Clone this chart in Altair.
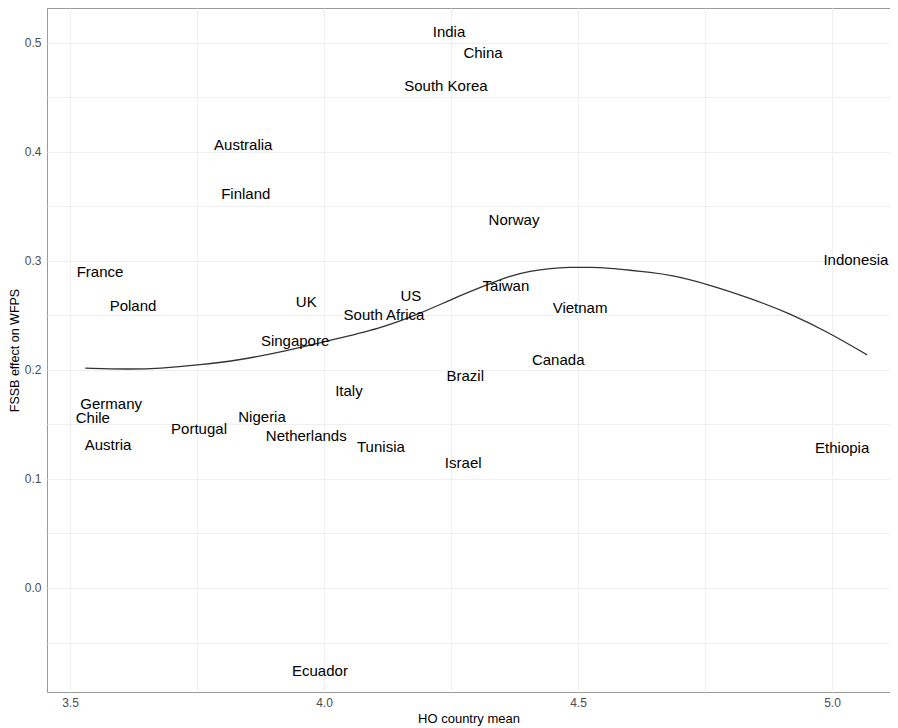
import altair as alt
import pandas as pd

countries = ["India", "China", "South Korea", "Australia", "Finland", "Norway", "France",
             "Indonesia", "Poland", "UK", "US", "South Africa", "Taiwan", "Vietnam",
             "Singapore", "Canada", "Brazil", "Italy", "Germany", "Chile", "Nigeria",
             "Portugal", "Netherlands", "Austria", "Tunisia", "Ethiopia", "Israel", "Ecuador"]
ho_mean = [4.246, 4.313, 4.240, 3.841, 3.846, 4.374, 3.559,
           5.047, 3.624, 3.965, 4.171, 4.118, 4.358, 4.504,
           3.943, 4.461, 4.278, 4.049, 3.581, 3.545, 3.878,
           3.754, 3.965, 3.575, 4.112, 5.020, 4.274, 3.992]
fssb_effect = [0.510, 0.491, 0.460, 0.406, 0.361, 0.338, 0.290,
               0.301, 0.259, 0.262, 0.268, 0.250, 0.277, 0.257,
               0.227, 0.209, 0.194, 0.181, 0.169, 0.156, 0.157,
               0.146, 0.139, 0.131, 0.129, 0.128, 0.115, -0.076]

smooth_x = [3.530, 3.612, 3.677, 3.756, 3.835, 3.913, 4.012, 4.110, 4.189, 4.254,
            4.307, 4.366, 4.406, 4.445, 4.484, 4.524, 4.563, 4.602, 4.642, 4.681,
            4.754, 4.839, 4.917, 4.996, 5.069]
smooth_y = [0.2016, 0.2006, 0.2012, 0.2046, 0.2092, 0.2162, 0.2272, 0.2379, 0.2517, 0.2654,
            0.2755, 0.2865, 0.2908, 0.2933, 0.2942, 0.2942, 0.2933, 0.2915, 0.2895, 0.2872,
            0.2789, 0.2658, 0.2520, 0.2337, 0.2138]

x_grid = [3.5, 3.75, 4.0, 4.25, 4.5, 4.75, 5.0]
y_grid = [-0.05, 0.0, 0.05, 0.1, 0.15, 0.2, 0.25, 0.3, 0.35, 0.4, 0.45, 0.5]

pts = pd.DataFrame({"country": countries, "x": ho_mean, "y": fssb_effect})
curve = pd.DataFrame({"x": smooth_x, "y": smooth_y})

xscale = alt.Scale(domain=[3.4547, 5.1141], nice=False, zero=False)
yscale = alt.Scale(domain=[-0.0954, 0.532], nice=False, zero=False)

xaxis = alt.Axis(title="HO country mean", values=x_grid,
                 labelExpr="abs(datum.value*2 - round(datum.value*2)) < 0.001 ? format(datum.value, '.1f') : ''",
                 grid=True, gridColor="#EFEFEF", gridWidth=1, ticks=False, domain=False,
                 labelColor="#4D4D4D", labelFontSize=12, labelPadding=5, labelFont="Liberation Sans",
                 titleFont="Liberation Sans", titleFontSize=13, titleFontWeight="normal",
                 titleColor="#000000", titlePadding=4)
yaxis = alt.Axis(title="FSSB effect on WFPS", values=y_grid,
                 labelExpr="abs(datum.value*10 - round(datum.value*10)) < 0.001 ? format(datum.value, '.1f') : ''",
                 grid=True, gridColor="#EFEFEF", gridWidth=1, ticks=False, domain=False,
                 labelColor="#4D4D4D", labelFontSize=12, labelPadding=6, labelFont="Liberation Sans",
                 titleFont="Liberation Sans", titleFontSize=12.5, titleFontWeight="normal",
                 titleColor="#000000", titlePadding=3)

line = alt.Chart(curve).mark_line(color="#333333", strokeWidth=1.3, interpolate="basis").encode(
    x=alt.X("x:Q", scale=xscale, axis=xaxis),
    y=alt.Y("y:Q", scale=yscale, axis=yaxis),
)

text = alt.Chart(pts).mark_text(font="Liberation Sans", fontSize=15, color="#000000",
                                align="center", baseline="middle").encode(
    x=alt.X("x:Q", scale=xscale),
    y=alt.Y("y:Q", scale=yscale),
    text="country:N",
)

chart = alt.layer(line, text).properties(
    width=843, height=684,
    autosize=alt.AutoSizeParams(type="none"),
    padding={"left": 39, "top": 0, "right": 0, "bottom": 36},
).configure_view(stroke="#9A9A9A", strokeWidth=1)

chart.save("out.html", embed_options={"renderer": "svg", "actions": False})
